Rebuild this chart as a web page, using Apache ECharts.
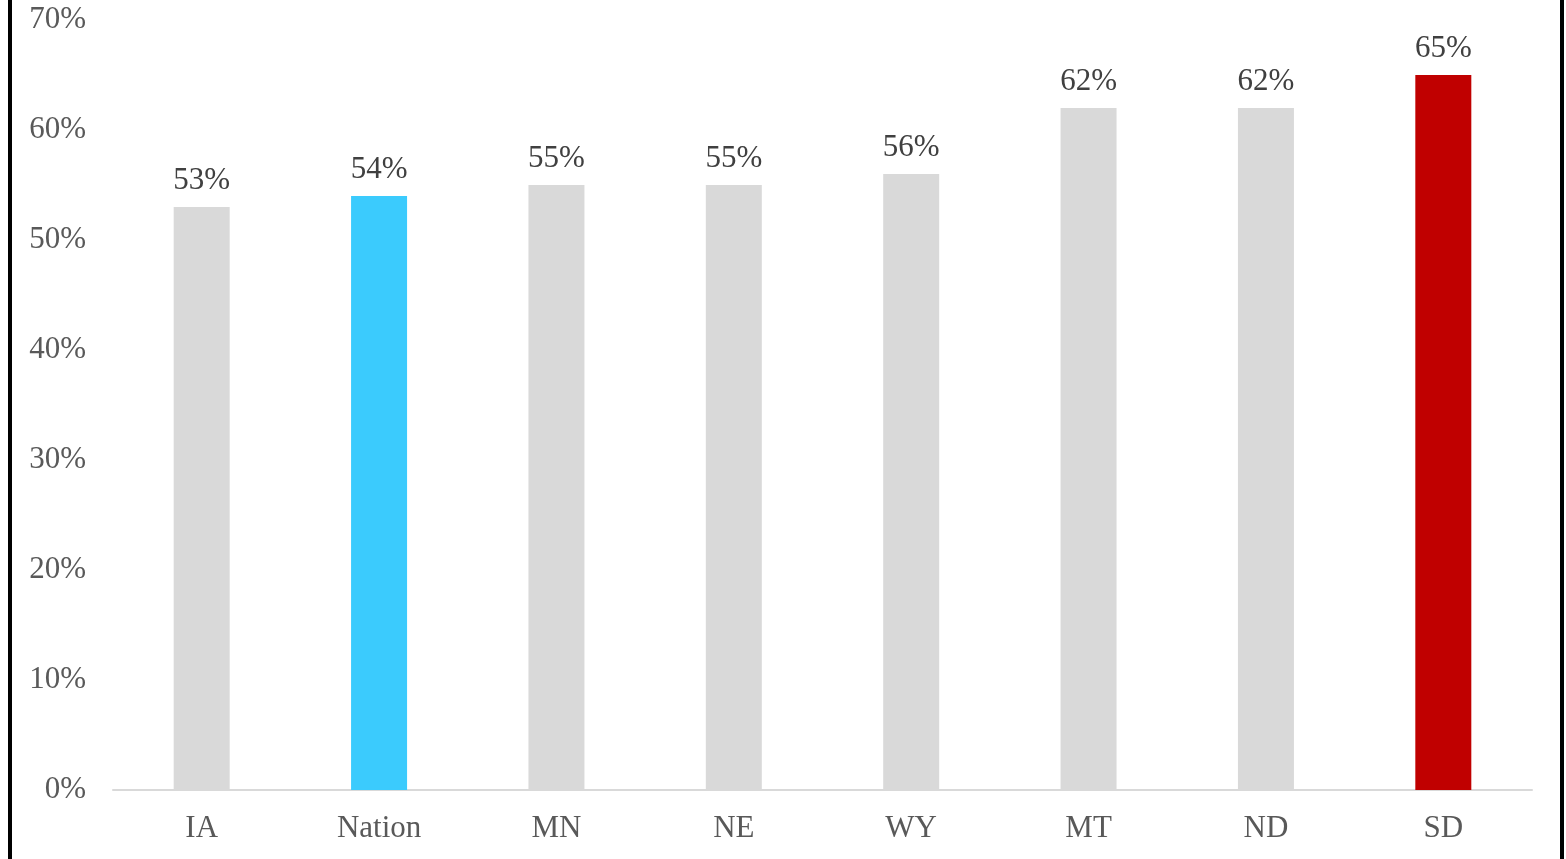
<!DOCTYPE html>
<html>
<head>
<meta charset="utf-8">
<script src="https://cdn.jsdelivr.net/npm/echarts@6/dist/echarts.min.js"></script>
<style>
  html, body { margin: 0; padding: 0; background: #fff; }
  #wrap { position: relative; width: 1566px; height: 859px; }
  #chart { width: 1566px; height: 859px; }
  .edge { position: absolute; top: 0; width: 4px; height: 859px; background: #000; }
</style>
</head>
<body>
<div id="wrap">
  <div id="chart"></div>
  <div class="edge" style="left: 8px;"></div>
  <div class="edge" style="left: 1560px;"></div>
</div>
<script>
// states compared against the nation
var categories = ['IA', 'Nation', 'MN', 'NE', 'WY', 'MT', 'ND', 'SD'];
var values = [53, 54, 55, 55, 56, 62, 62, 65];
var barColors = ['#d9d9d9', '#3bcbfd', '#d9d9d9', '#d9d9d9', '#d9d9d9', '#d9d9d9', '#d9d9d9', '#c00000'];

var myChart = echarts.init(document.getElementById('chart'));

var option = {
    animation: false,
    textStyle: { fontFamily: 'Liberation Serif' },
    grid: { left: 113, right: 34, top: 20, bottom: 69 },
    xAxis: {
        type: 'category',
        data: categories,
        axisLine: { lineStyle: { color: '#d9d9d9', width: 2 } },
        axisTick: { show: false },
        axisLabel: { color: '#595959', fontSize: 31, margin: 23, fontFamily: 'Liberation Serif' }
    },
    yAxis: {
        type: 'value',
        min: 0,
        max: 70,
        interval: 10,
        splitLine: { show: false },
        axisLine: { show: false },
        axisTick: { show: false },
        axisLabel: {
            color: '#595959',
            fontSize: 31,
            margin: 27,
            fontFamily: 'Liberation Serif',
            formatter: '{value}%'
        }
    },
    series: [
        {
            type: 'bar',
            barWidth: 56,
            data: values.map(function (v, i) {
                return { value: v, itemStyle: { color: barColors[i] } };
            }),
            label: {
                show: true,
                position: 'top',
                distance: 11,
                color: '#404040',
                fontSize: 31,
                fontFamily: 'Liberation Serif',
                formatter: '{c}%'
            }
        }
    ]
};

myChart.setOption(option);
</script>
</body>
</html>
